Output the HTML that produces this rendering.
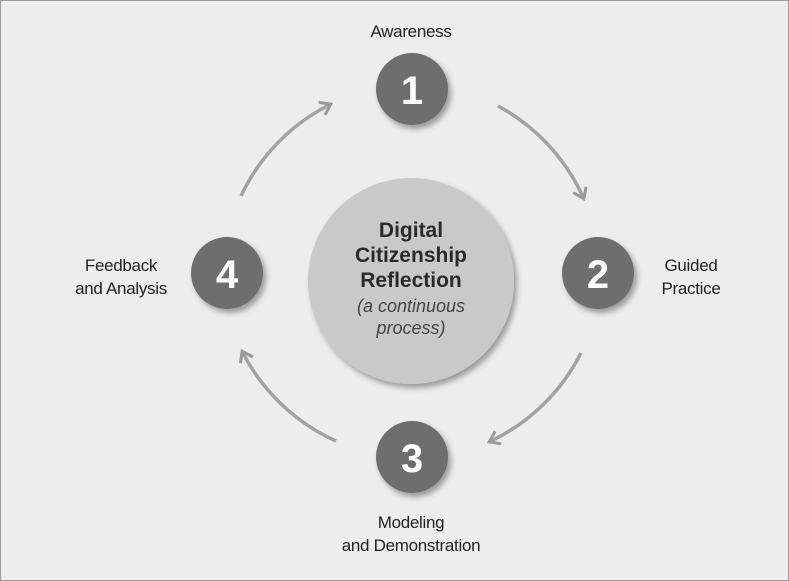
<!DOCTYPE html>
<html><head><style>
body{margin:0;}
.wrap{width:787px;height:579px;border:1px solid #9a9a9a;background:#ededed;position:relative;overflow:hidden;font-family:"Liberation Sans",Arial,sans-serif;}
.t{position:absolute;font-size:17px;color:#222;text-align:center;line-height:23px;letter-spacing:-0.3px;}
</style></head><body>
<div class="wrap">
<svg width="787" height="579" style="position:absolute;left:0;top:0">
<defs>
<filter id="sh" x="-30%" y="-30%" width="160%" height="160%"><feDropShadow dx="3" dy="4" stdDeviation="3" flood-color="#000" flood-opacity="0.35"/></filter>
<marker id="ah" markerWidth="16" markerHeight="16" refX="9" refY="8" orient="auto" markerUnits="userSpaceOnUse"><path d="M1,1 L11,8 L1,15" fill="none" stroke="#9a9a9a" stroke-width="3"/></marker>
</defs>
<circle cx="410" cy="280" r="103" fill="#c9c9c9" filter="url(#sh)"/>
<g fill="none" stroke="#a2a2a2" stroke-width="3.5" marker-end="url(#ah)">
<path d="M497,105 A195,195 0 0 1 582,196"/>
<path d="M580,352 A195,195 0 0 1 490,440"/>
<path d="M335,440 A195,195 0 0 1 242,352"/>
<path d="M240,195 A195,195 0 0 1 328,104"/>
</g>
<g fill="#6e6e6e" filter="url(#sh)">
<circle cx="411" cy="88" r="36"/>
<circle cx="597" cy="272" r="36"/>
<circle cx="411" cy="456" r="36"/>
<circle cx="226" cy="272" r="36"/>
</g>
<g fill="#fff" font-family="Liberation Sans,Arial,sans-serif" font-weight="bold" font-size="40" text-anchor="middle">
<text x="411" y="103">1</text>
<text x="597" y="287">2</text>
<text x="411" y="471">3</text>
<text x="226" y="287">4</text>
</g>
<g font-family="Liberation Sans,Arial,sans-serif" text-anchor="middle" fill="#2a2a2a">
<text x="410" y="236" font-weight="bold" font-size="21">Digital</text>
<text x="410" y="261" font-weight="bold" font-size="21">Citizenship</text>
<text x="410" y="286" font-weight="bold" font-size="21">Reflection</text>
<text x="410" y="311" font-style="italic" font-size="18" fill="#444">(a continuous</text>
<text x="410" y="333" font-style="italic" font-size="18" fill="#444">process)</text>
</g>
</svg>
<div class="t" style="left:340px;top:19px;width:140px">Awareness</div>
<div class="t" style="left:640px;top:253px;width:100px">Guided<br>Practice</div>
<div class="t" style="left:300px;top:510px;width:220px">Modeling<br>and Demonstration</div>
<div class="t" style="left:60px;top:253px;width:120px">Feedback<br>and Analysis</div>
</div>
</body></html>
